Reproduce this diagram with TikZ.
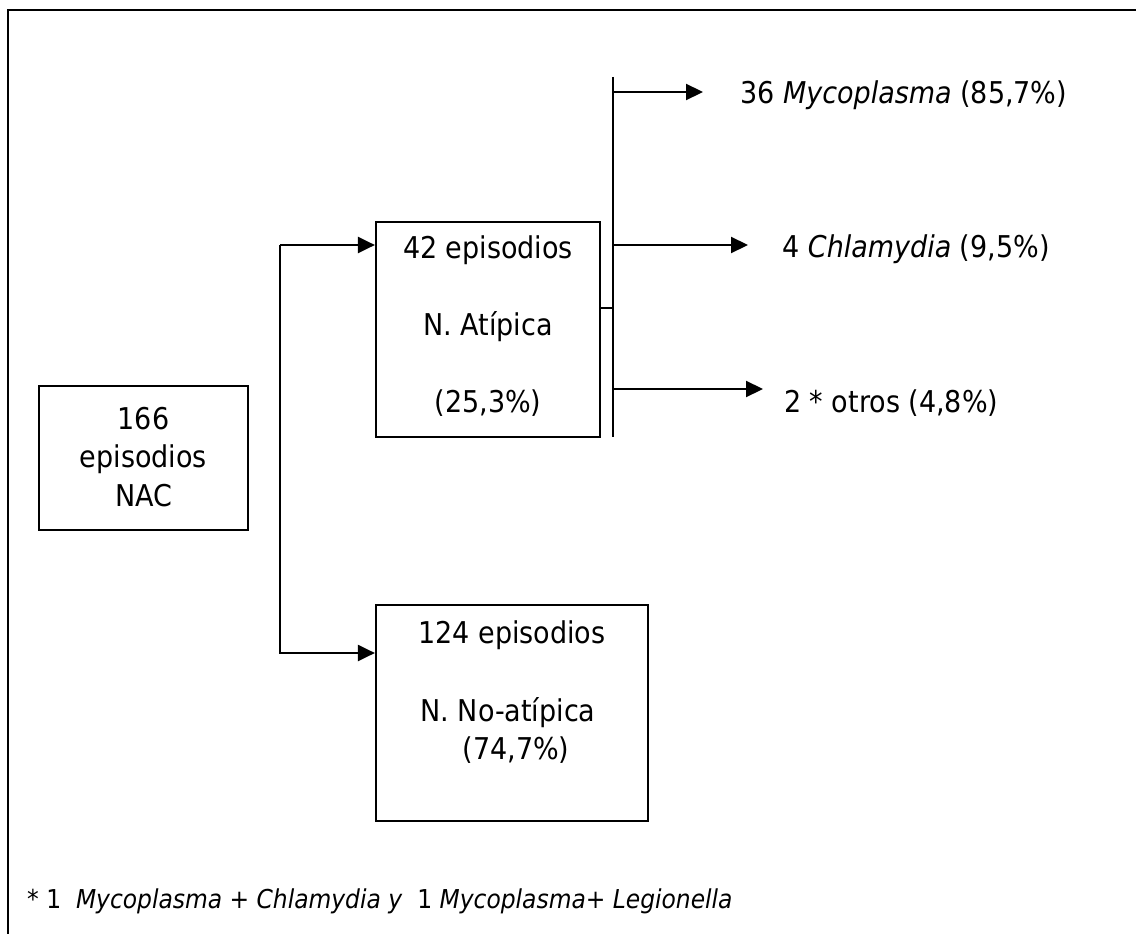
\documentclass[tikz,border=0pt]{standalone}
\usepackage{fontspec}
\setmainfont{DejaVu Sans Condensed}
\usetikzlibrary{arrows.meta}
\tikzset{
  boxn/.style={draw, line width=2.2pt, inner sep=0pt},
  txt/.style={inner sep=0pt, font=\fontsize{30}{36}\selectfont},
  arr/.style={line width=2.2pt, -{Triangle[length=17pt,width=16pt]}},
  ln/.style={line width=2.2pt},
}
\begin{document}
\begin{tikzpicture}[x=1pt,y=-1pt]
\useasboundingbox (0,0) rectangle (1136,934);
% outer frame
\draw[line width=2.6pt] (8,960) -- (8,10) -- (1160,10);
% boxes
\node[boxn, minimum width=209pt, minimum height=144pt] (nac) at (143.5,458) {};
\node[boxn, minimum width=224pt, minimum height=215pt] (b42) at (488,329.5) {};
\node[boxn, minimum width=272pt, minimum height=216pt] (b124) at (512,713) {};
% texts in boxes
\node[txt, anchor=base] (n1) at (143.5,429) {166};
\node[txt, anchor=base] (n2) at (143.5,467) {episodios};
\node[txt, anchor=base] (n3) at (143.5,506) {NAC};
\node[txt, anchor=base] (a1) at (488,258) {42 episodios};
\node[txt, anchor=base] (a2) at (488,335) {N. Atípica};
\node[txt, anchor=base] (a3) at (488,412) {(25,3\%)};
\node[txt, anchor=base] (c1) at (512,643) {124 episodios};
\node[txt, anchor=base] (c2) at (508,721) {N. No-atípica};
\node[txt, anchor=base] (c3) at (516,759) {(74,7\%)};
% left bracket connector
\coordinate (bt) at (280,245);
\coordinate (bb) at (280,653);
\draw[arr] (bt) -- (bt -| b42.west);
\draw[arr] (bt) -- (bb) -- (bb -| b124.west);
% right bus
\coordinate (bus1) at (613,77);
\coordinate (bus2) at (613,437);
\coordinate (stub) at (613,308);
\draw[ln] (bus1) -- (bus2);
\draw[ln] (stub -| b42.east) -- (stub);
% outcome labels
\node[txt, anchor=base west] (r1) at (740,103) {36 \textit{Mycoplasma} (85,7\%)};
\node[txt, anchor=base west] (r2) at (782,257) {4 \textit{Chlamydia} (9,5\%)};
\node[txt, anchor=base west] (r3) at (784,412) {2 * otros (4,8\%)};
\coordinate (k1) at (613,92);
\coordinate (k2) at (613,245);
\coordinate (k3) at (613,389);
\coordinate (e1) at (703,92);
\coordinate (e2) at (748,245);
\coordinate (e3) at (763,389);
\draw[arr] (k1) -- (e1);
\draw[arr] (k2) -- (e2);
\draw[arr] (k3) -- (e3);
% footnote
\node[inner sep=0pt, anchor=base west, font=\fontsize{26}{30}\selectfont] (fn) at (27,908) {* 1\ \ \textit{Mycoplasma + Chlamydia y}\ \ 1 \textit{Mycoplasma+ Legionella}};
\end{tikzpicture}
\end{document}
